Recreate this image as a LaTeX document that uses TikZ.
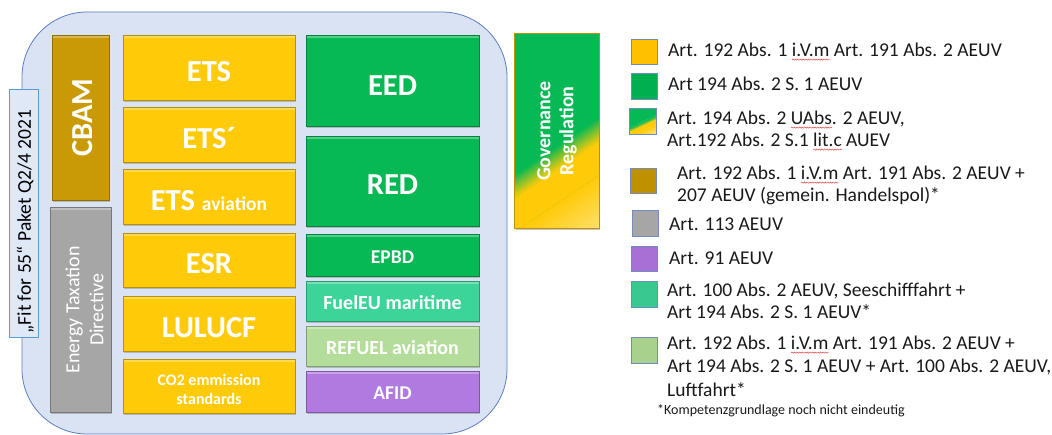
\documentclass[tikz,border=0pt]{standalone}
\usepackage{fontspec}
\setmainfont{Carlito}
\usetikzlibrary{shadows,decorations.pathmorphing,fit,calc}

\definecolor{cCont}{HTML}{DAE3F3}
\definecolor{cContB}{HTML}{5A7EC0}
\definecolor{cYel}{HTML}{FFCA08}
\definecolor{cYelL}{HTML}{FFC000}
\definecolor{cYpale}{HTML}{FFE27A}
\definecolor{cGrn}{HTML}{06B954}
\definecolor{cGrnL}{HTML}{00B050}
\definecolor{cGold}{HTML}{C99A06}
\definecolor{cGoldL}{HTML}{BF9000}
\definecolor{cGry}{HTML}{A6A6A6}
\definecolor{cPur}{HTML}{B07AE0}
\definecolor{cPurL}{HTML}{A86FD5}
\definecolor{cTea}{HTML}{3CD499}
\definecolor{cTeaL}{HTML}{38C98E}
\definecolor{cLgr}{HTML}{B4DD9B}
\definecolor{cLgrL}{HTML}{A9D18E}
\definecolor{cLegB}{HTML}{6F8DBF}
\definecolor{cFitF}{HTML}{DEE8F6}
\definecolor{cFitB}{HTML}{5B9BD5}
\definecolor{cSq}{HTML}{E04848}

\newsavebox\sqbox
\newcommand\sq[1]{\sbox\sqbox{#1}\rlap{\tikz[baseline=0pt]\draw[cSq, line width=0.5pt, decorate, decoration={snake, amplitude=0.6pt, segment length=2.6pt}] (0pt,-2.6pt) -- (\wd\sqbox,-2.6pt);}\usebox\sqbox}

% diagonal green-to-yellow fill of node #1; band limits (y-down, relative to centre): #2 green end, #3 yellow start, #4 yellow end, #5 pale start; #6 angle
\newcommand\gyfill[6]{%
  \begin{scope}
    \clip (#1.south west) rectangle (#1.north east);
    \begin{scope}[transform canvas={rotate around={#6:(#1.center)}}]
      \fill[cGrn] ($(#1.center)+(-160,-160)$) rectangle ($(#1.center)+(160,#2)$);
      \shade[top color=cGrn, bottom color=cYel] ($(#1.center)+(-160,#2)$) rectangle ($(#1.center)+(160,#3)$);
      \fill[cYel] ($(#1.center)+(-160,#3)$) rectangle ($(#1.center)+(160,#4)$);
      \shade[top color=cYel, bottom color=cYpale] ($(#1.center)+(-160,#4)$) rectangle ($(#1.center)+(160,#5)$);
      \fill[cYpale] ($(#1.center)+(-160,#5)$) rectangle ($(#1.center)+(160,160)$);
    \end{scope}
  \end{scope}}

\tikzset{
  blk/.style={rectangle, inner sep=0pt, fill=#1, draw=#1!72!black, line width=0.8pt,
    drop shadow={shadow xshift=1.3pt, shadow yshift=-1.6pt, opacity=0.45},
    path picture={\fill[white,opacity=0.3] (path picture bounding box.north west) rectangle ([yshift=-3pt]path picture bounding box.north east);}},
  wt/.style={text=white, inner sep=0pt},
  big/.style={wt, font=\bfseries\fontsize{30.5}{32}\selectfont},
  mid/.style={wt, font=\bfseries\fontsize{19.5}{21}\selectfont},
  legsq/.style={rectangle, inner sep=0pt, fill=#1, draw=cLegB, line width=0.8pt},
  legtx/.style={anchor=base west, inner sep=0pt, font=\fontsize{19.5}{22}\selectfont, text=black!90},
}

\begin{document}
\begin{tikzpicture}[x=1pt,y=-1pt]
\useasboundingbox (0,0) rectangle (1052,435);

% container
\node[rectangle, inner sep=0pt, fill=cCont, draw=cContB, line width=0.8pt, rounded corners=65pt, fit={(22,12) (507,434)}] (cont) {};

% fit label
\node[rectangle, inner sep=0pt, fill=cFitF, draw=cFitB, line width=0.9pt, fit={(9,89) (38,337)}] (fitbox) {};
\node[inner sep=0pt, rotate=90, font=\fontsize{19.5}{21}\selectfont] (fittx) at (25.3,221.5) {„Fit for 55“ Paket Q2/4 2021};

% left column
\node[blk=cGold, fit={(52,35) (109,200)}] (cbam) {};
\node[big, rotate=90] (tcbam) at ($(cbam.center)+(2,0)$) {CBAM};
\node[blk=cGry, fit={(50,207) (111,412)}] (etd) {};
\node[wt, rotate=90, align=center, font=\fontsize{20}{24}\selectfont] (tetd) at ($(etd.center)+(4,0.5)$) {Energy Taxation\\Directive};

% yellow column
\node[blk=cYel, fit={(123,35) (295,100)}] (ets) {};
\node[big] (tets) at ($(ets.center)+(0,4)$) {ETS};
\node[blk=cYel, fit={(123,107) (295,162)}] (etsb) {};
\node[big] (tetsb) at ($(etsb.center)+(0,4)$) {ETS´};
\node[blk=cYel, fit={(123,169) (295,224)}] (etsav) {};
\node[big] (tetsav) at ($(etsav.center)+(0,4)$) {ETS {\fontsize{19.5}{21}\selectfont aviation}};
\node[blk=cYel, fit={(123,233) (295,287)}] (esr) {};
\node[big] (tesr) at ($(esr.center)+(0,4)$) {ESR};
\node[blk=cYel, fit={(123,296) (295,351)}] (lulucf) {};
\node[big] (tlulucf) at ($(lulucf.center)+(0,4)$) {LULUCF};
\node[blk=cYel, fit={(123,359) (295,413)}] (co2) {};
\node[wt, align=center, font=\bfseries\fontsize{16}{19}\selectfont] (tco2) at ($(co2.center)+(0,3)$) {CO2 emmission\\standards};

% green column
\node[blk=cGrn, fit={(306,35) (479,126)}] (eed) {};
\node[big] (teed) at ($(eed.center)+(0,5)$) {EED};
\node[blk=cGrn, fit={(306,136) (479,226)}] (red) {};
\node[big] (tred) at ($(red.center)+(0,4)$) {RED};
\node[blk=cGrn, fit={(306,234) (479,276)}] (epbd) {};
\node[mid] (tepbd) at ($(epbd.center)+(0,2)$) {EPBD};
\node[blk=cTea, fit={(306,281) (479,321)}] (fuel) {};
\node[mid, font=\bfseries\fontsize{20}{21}\selectfont] (tfuel) at ($(fuel.center)+(0,2)$) {FuelEU maritime};
\node[blk=cLgr, fit={(306,326) (479,366)}] (refuel) {};
\node[mid, font=\bfseries\fontsize{20}{21}\selectfont] (trefuel) at ($(refuel.center)+(0,2)$) {REFUEL aviation};
\node[blk=cPur, fit={(306,371) (479,412)}] (afid) {};
\node[mid] (tafid) at ($(afid.center)+(0,2)$) {AFID};

% governance
\node[rectangle, inner sep=0pt, fill=cGrn,
  drop shadow={shadow xshift=1.3pt, shadow yshift=-1.6pt, opacity=0.45}, fit={(515,34) (599,228)}] (gov) {};
\gyfill{gov}{12}{32}{60}{110}{34}
\draw[draw=cGoldL, line width=0.9pt] (gov.south west) rectangle (gov.north east);
\node[wt, rotate=90, align=center, font=\bfseries\fontsize{20}{23}\selectfont] (tgov) at (gov.center) {Governance\\Regulation};

% legend squares
\node[legsq=cYelL, fit={(631,39) (657,64)}] (l1) {};
\node[legsq=cGrnL, fit={(631,73) (657,99)}] (l2) {};
\node[rectangle, inner sep=0pt, fit={(630,109) (656,134)}] (l3) {};
\gyfill{l3}{0}{4}{8}{16}{25}
\draw[draw=cLegB, line width=0.8pt] (l3.south west) rectangle (l3.north east);
\node[legsq=cGoldL, fit={(630,168) (656,193)}] (l4) {};
\node[legsq=cGry, fit={(632,210) (658,236)}] (l5) {};
\node[legsq=cPurL, fit={(631,246) (657,271)}] (l6) {};
\node[legsq=cTeaL, fit={(631,281) (657,307)}] (l7) {};
\node[legsq=cLgrL, fit={(631,337) (657,363)}] (l8) {};

% legend texts
\node[legtx] (t1) at (668,57) {Art. 192 Abs. 1 \sq{i.V.m} Art. 191 Abs. 2 AEUV};
\node[legtx] (t2) at (668,91) {Art 194 Abs. 2 S. 1 AEUV};
\node[legtx] (t3a) at (667,125) {Art. 194 Abs. 2 \sq{UAbs}. 2 AEUV,};
\node[legtx] (t3b) at (667,147) {Art.192 Abs. 2 S.1 \sq{lit.c} AUEV};
\node[legtx] (t4a) at (677,180) {Art. 192 Abs. 1 \sq{i.V.m} Art. 191 Abs. 2 AEUV +};
\node[legtx] (t4b) at (677,202) {207 AEUV (gemein. Handelspol)*};
\node[legtx] (t5) at (669,231) {Art. 113 AEUV};
\node[legtx] (t6) at (669,265) {Art. 91 AEUV};
\node[legtx] (t7a) at (667,297) {Art. 100 Abs. 2 AEUV, Seeschifffahrt +};
\node[legtx] (t7b) at (667,319) {Art 194 Abs. 2 S. 1 AEUV*};
\node[legtx] (t8a) at (667,350) {Art. 192 Abs. 1 \sq{i.V.m} Art. 191 Abs. 2 AEUV +};
\node[legtx] (t8b) at (667,373) {Art 194 Abs. 2 S. 1 AEUV + Art. 100 Abs. 2 AEUV,};
\node[legtx] (t8c) at (667,396) {Luftfahrt*};
\node[legtx, font=\fontsize{14}{16}\selectfont] (foot) at (657,414) {*Kompetenzgrundlage noch nicht eindeutig};
\end{tikzpicture}
\end{document}
